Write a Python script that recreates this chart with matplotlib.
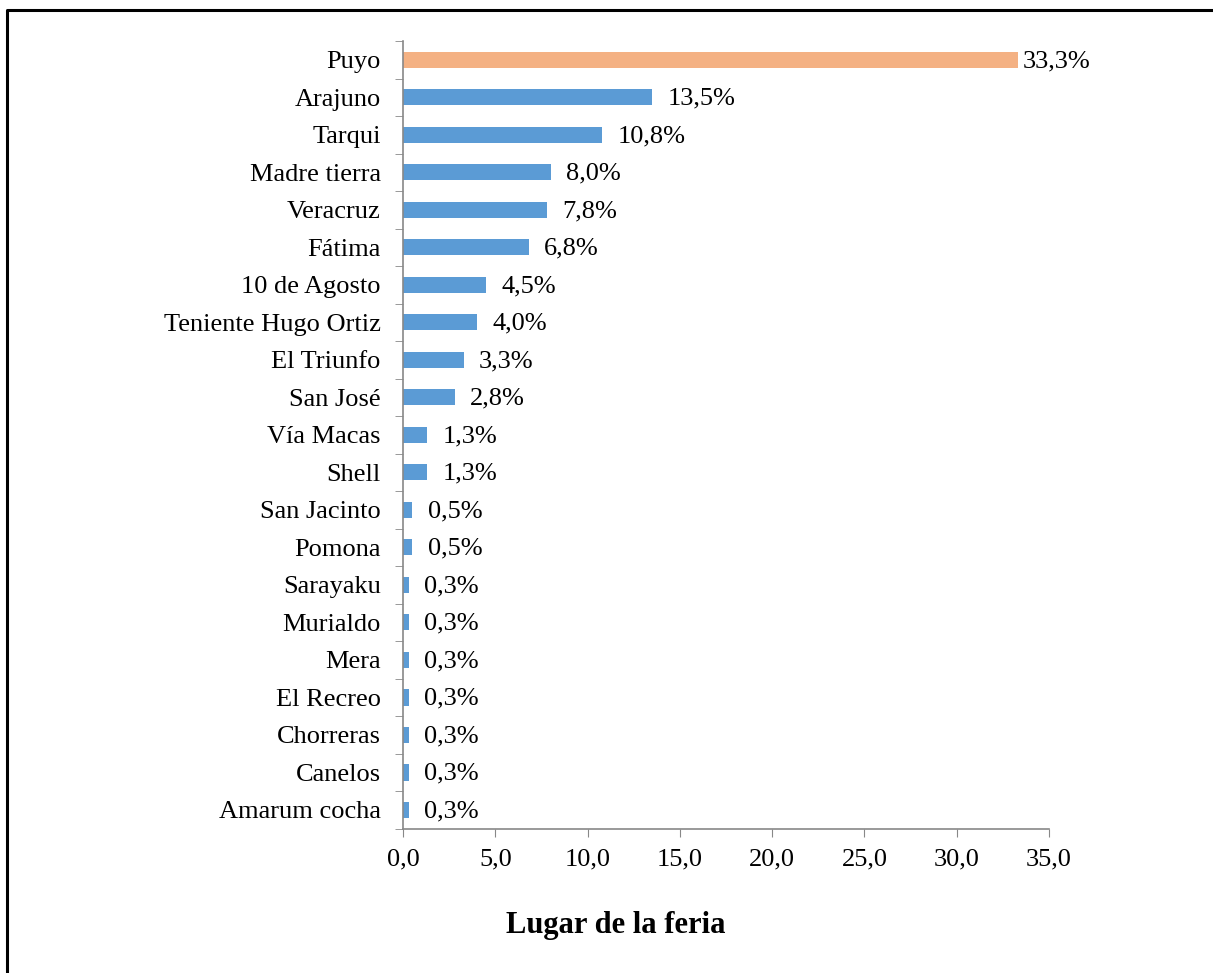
import numpy as np
import matplotlib.pyplot as plt
from matplotlib.lines import Line2D
from matplotlib.ticker import FixedLocator

plt.rcParams['font.family'] = ['Liberation Serif', 'DejaVu Serif']

lugares = ["Puyo", "Arajuno", "Tarqui", "Madre tierra", "Veracruz", "Fátima",
           "10 de Agosto", "Teniente Hugo Ortiz", "El Triunfo", "San José",
           "Vía Macas", "Shell", "San Jacinto", "Pomona", "Sarayaku", "Murialdo",
           "Mera", "El Recreo", "Chorreras", "Canelos", "Amarum cocha"]
porcentajes = [33.3, 13.5, 10.8, 8.0, 7.8, 6.8, 4.5, 4.0, 3.3, 2.8,
               1.3, 1.3, 0.5, 0.5, 0.3, 0.3, 0.3, 0.3, 0.3, 0.3, 0.3]
ticks_x = [0, 5, 10, 15, 20, 25, 30, 35]

azul = "#5B9BD5"
naranja = "#F4B183"

fig = plt.figure(figsize=(12.13, 9.73), dpi=100)
ax = fig.add_axes([403/1213, 1-828.75/973, (1049-403)/1213, (828.75-41)/973])

n = len(lugares)
pos = np.arange(n)[::-1]
colores = [naranja] + [azul]*(n-1)
ax.barh(pos, porcentajes, height=0.43, color=colores)

for p, v in zip(pos, porcentajes):
    # etiqueta mas pegada si la barra casi llega al borde
    dx = 4 if v > 30 else 11
    ax.annotate((f"{v:.1f}%").replace(".", ","), xy=(v, p), xytext=(dx, -1),
                textcoords="offset points", va="center", ha="left", fontsize=19)

ax.set_xlim(0, 35)
ax.set_ylim(-0.5, n - 0.5)
ax.set_yticks(pos)
ax.set_yticklabels(lugares, fontsize=19)
ax.yaxis.set_minor_locator(FixedLocator(np.arange(-0.5, n, 1)))
ax.tick_params(axis="y", which="major", length=0, pad=16)
ax.tick_params(axis="y", which="minor", length=6, color="#888888", direction="out")
ax.set_xticks(ticks_x)
ax.set_xticklabels([(f"{t:.1f}").replace(".", ",") for t in ticks_x], fontsize=19)
ax.tick_params(axis="x", length=6, color="#888888", pad=8)
for s in ["top", "right"]:
    ax.spines[s].set_visible(False)
for s in ["left", "bottom"]:
    ax.spines[s].set_color("#888888")
    ax.spines[s].set_linewidth(1.2)

fig.text(616/1213, 1-925/973, "Lugar de la feria", ha="center", va="center",
         fontsize=22, fontweight="bold")

# marco
fig.add_artist(Line2D([7/1213, 7/1213, 1.0], [0.0, 1-10/973, 1-10/973],
                      transform=fig.transFigure, color="black", lw=2.2))

fig.savefig("out.png", dpi=100)
